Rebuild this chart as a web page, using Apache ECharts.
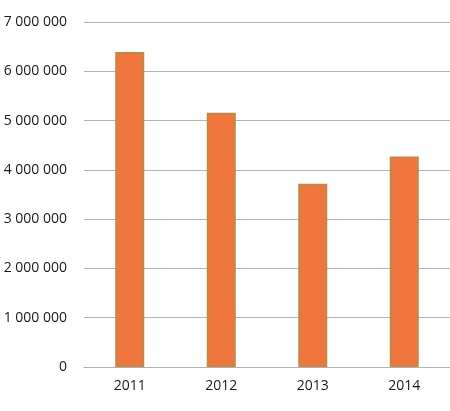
<!DOCTYPE html>
<html>
<head>
<meta charset="utf-8">
<script src="https://cdn.jsdelivr.net/npm/echarts@6/dist/echarts.min.js"></script>
<style>
  html, body { margin: 0; padding: 0; background: #fff; }
  #chart { width: 450px; height: 411px; }
</style>
</head>
<body>
<div id="chart"></div>
<script>
var years = ['2011', '2012', '2013', '2014'];
var amounts = [6390000, 5160000, 3720000, 4270000];

function spaced(value) {
    return String(value).replace(/\B(?=(\d{3})+(?!\d))/g, ' ');
}

var chart = echarts.init(document.getElementById('chart'));
chart.setOption({
    animation: false,
    grid: { left: 84, right: 0, top: 22, bottom: 44 },
    xAxis: {
        type: 'category',
        data: years,
        axisLine: { show: true, lineStyle: { color: '#b3b3b3', width: 1 } },
        axisTick: { show: false },
        axisLabel: { color: '#1a1a1a', fontSize: 14, fontFamily: 'Open Sans', margin: 12 }
    },
    yAxis: {
        type: 'value',
        min: 0,
        max: 7000000,
        interval: 1000000,
        axisLine: { show: false },
        axisTick: { show: false },
        axisLabel: {
            color: '#1a1a1a', fontSize: 14, fontFamily: 'Open Sans', margin: 17,
            formatter: spaced
        },
        splitLine: { lineStyle: { color: '#b3b3b3', width: 1 } }
    },
    series: [{
        type: 'bar',
        data: amounts,
        barWidth: 29,
        itemStyle: { color: '#ef763d', borderColor: '#b88a45', borderWidth: 1.5 }
    }]
});
</script>
</body>
</html>
